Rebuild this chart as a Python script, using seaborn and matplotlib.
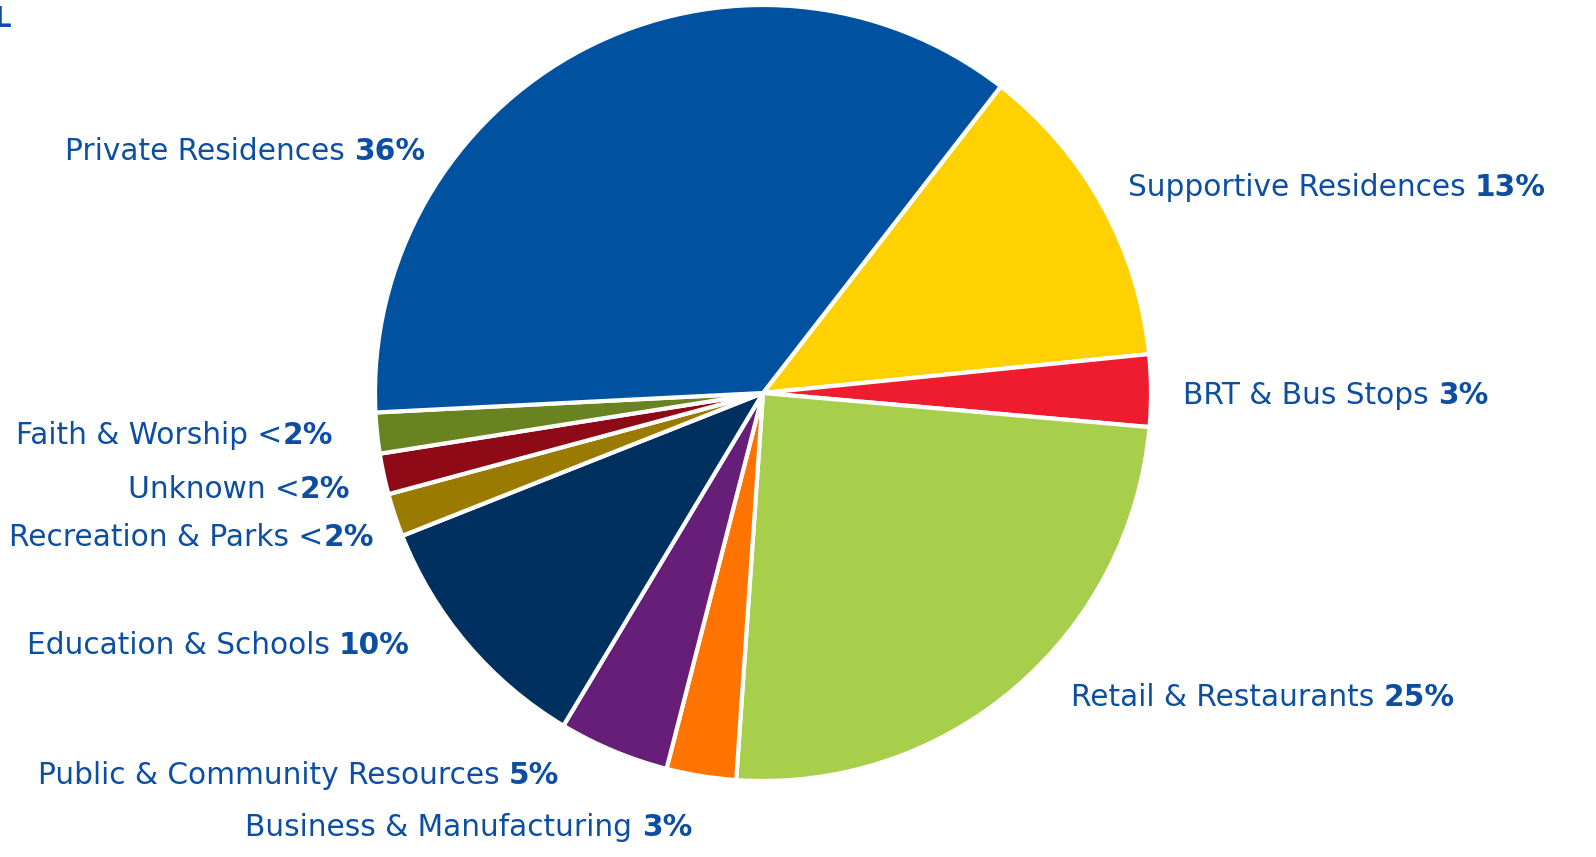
import matplotlib
matplotlib.use("Agg")
import matplotlib.pyplot as plt
import seaborn as sns

sns.set_theme(style="white")
plt.rcParams['font.family'] = ['DejaVu Sans']

categories = ["Supportive Residences", "BRT & Bus Stops", "Retail & Restaurants",
              "Business & Manufacturing", "Public & Community Resources",
              "Education & Schools", "Recreation & Parks", "Unknown",
              "Faith & Worship", "Private Residences"]
shares = [12.9, 3.0, 24.7, 2.9, 4.6, 10.4, 1.8, 1.7, 1.7, 36.3]
pct_labels = ["13%", "3%", "25%", "3%", "5%", "10%", "<2%", "<2%", "<2%", "36%"]
colors = ["#FFD100", "#EE1C2E", "#A8CF4C", "#FF7300", "#661E78",
          "#003060", "#9A7B00", "#8E0A16", "#688320", "#0052A0"]

W, H = 1596, 857
fig = plt.figure(figsize=(W / 100, H / 100), dpi=100)
fig.patch.set_facecolor("white")

cx, cy, r = 763, 393, 388
ax = fig.add_axes([(cx - r) / W, 1 - (cy + r) / H, 2 * r / W, 2 * r / H])
ax.pie(shares, colors=colors, startangle=52.2, counterclock=False,
       wedgeprops=dict(edgecolor="white", linewidth=3))
ax.set_xlim(-1, 1)
ax.set_ylim(-1, 1)
ax.set_aspect("auto")
ax.axis("off")

txt_color = "#0B4EA2"
fs = 21.3

# label layout: (side, x in px, y center in px)
layout = {
    "Private Residences": ("L", 425, 149),
    "Supportive Residences": ("R", 1128, 185),
    "BRT & Bus Stops": ("R", 1183, 393),
    "Retail & Restaurants": ("R", 1071, 694),
    "Faith & Worship": ("L", 333, 433),
    "Unknown": ("L", 350, 487),
    "Recreation & Parks": ("L", 374, 535),
    "Education & Schools": ("L", 410, 642),
    "Public & Community Resources": ("L", 559, 773),
    "Business & Manufacturing": ("L", 692, 825),
}

fig.canvas.draw()
renderer = fig.canvas.get_renderer()

for cat, pct in zip(categories, pct_labels):
    side, x, y = layout[cat]
    fy = 1 - y / H
    if pct.startswith("<"):
        norm = cat + " <"
        bold = pct[1:]
    else:
        norm = cat + " "
        bold = pct
    if side == "R":
        t1 = fig.text(x / W, fy, norm, fontsize=fs, color=txt_color,
                      ha="left", va="center_baseline")
        bb = t1.get_window_extent(renderer)
        fig.text(bb.x1 / W, fy, bold, fontsize=fs, color=txt_color,
                 fontweight="bold", ha="left", va="center_baseline")
    else:
        t2 = fig.text(x / W, fy, bold, fontsize=fs, color=txt_color,
                      fontweight="bold", ha="right", va="center_baseline")
        bb = t2.get_window_extent(renderer)
        fig.text(bb.x0 / W, fy, norm, fontsize=fs, color=txt_color,
                 ha="right", va="center_baseline")

# clipped title fragment at top-left
fig.text(-6 / W, 1 - 27 / H, "L", fontsize=20, color=txt_color,
         fontweight="bold", ha="left", va="baseline")

fig.savefig("out.png", dpi=100, facecolor="white")
